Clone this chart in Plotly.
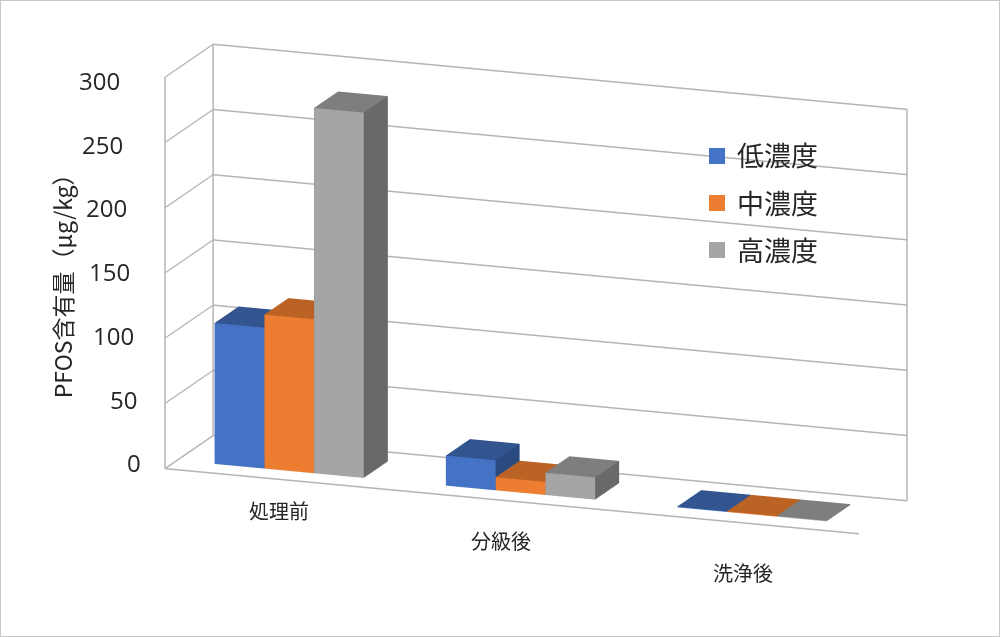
import math
import plotly.graph_objects as go

categories = ['処理前', '分級後', '洗浄後']
series_names = ['低濃度', '中濃度', '高濃度']
low_values = [108, 23, 0.5]
mid_values = [118, 10, 0.5]
high_values = [280, 17, 0.5]
z_ticks = [0, 50, 100, 150, 200, 250, 300]

front_colors = ['#4472C4', '#ED7D31', '#A5A5A5']
top_colors = ['#32548F', '#BA6325', '#7E7E7E']
side_colors = ['#2A4A80', '#A55620', '#696969']
GRID = '#b4b4b4'
TEXT = '#262626'
JP_FONT = 'Noto Sans CJK JP'

BAR_W = 0.215
BAR_SHIFT = -0.015
Y_FRONT, Y_BACK = 0.25, 0.75
# nudges for the category labels, the reference has perspective and this view does not
label_dx = [-2, -11, 0]
label_dy = [8, 0, -11]


def bar_mesh(i, j, value):
    x0 = i + BAR_SHIFT + (j - 1.5) * BAR_W
    x1 = x0 + BAR_W
    xs = [x0, x1, x1, x0, x0, x1, x1, x0]
    ys = [Y_FRONT, Y_FRONT, Y_BACK, Y_BACK] * 2
    zs = [0, 0, 0, 0, value, value, value, value]
    faces = [
        (0, 1, 5, 'f'), (0, 5, 4, 'f'),
        (1, 2, 6, 's'), (1, 6, 5, 's'),
        (4, 5, 6, 't'), (4, 6, 7, 't'),
        (0, 3, 7, 's'), (0, 7, 4, 's'),
        (2, 3, 7, 's'), (2, 7, 6, 's'),
        (0, 1, 2, 's'), (0, 2, 3, 's'),
    ]
    pick = {'f': front_colors[j], 's': side_colors[j], 't': top_colors[j]}
    return go.Mesh3d(
        x=xs, y=ys, z=zs,
        i=[f[0] for f in faces], j=[f[1] for f in faces], k=[f[2] for f in faces],
        facecolor=[pick[f[3]] for f in faces],
        flatshading=True,
        lighting=dict(ambient=1, diffuse=0, specular=0, fresnel=0),
        showlegend=False, hoverinfo='skip',
    )


fig = go.Figure()
for j, vals in enumerate([low_values, mid_values, high_values]):
    for i, v in enumerate(vals):
        fig.add_trace(bar_mesh(i, j, v))

# floor outline and back edges of the box
x_lo, x_hi = -0.5, 2.5
z_top = z_ticks[-1]
frame = [
    ([x_lo, x_hi], [0, 0], [0, 0]),
    ([x_lo, x_lo], [0, 1], [0, 0]),
    ([x_lo, x_hi], [1, 1], [0, 0]),
    ([x_lo, x_lo], [0, 0], [0, z_top]),
    ([x_lo, x_lo], [1, 1], [0, z_top]),
    ([x_hi, x_hi], [1, 1], [0, z_top]),
]
for fx, fy, fz in frame:
    fig.add_trace(go.Scatter3d(x=fx, y=fy, z=fz, mode='lines', line=dict(color=GRID, width=3),
                               showlegend=False, hoverinfo='skip'))

for name, color in zip(series_names, front_colors):
    fig.add_trace(go.Scatter3d(x=[None], y=[None], z=[None], mode='markers', name=name, legendgroup=name,
                               marker=dict(symbol='square', size=16, color=color)))

# tick and category labels sit on the axes through scene annotations
scene_labels = [dict(x=x_lo, y=0, z=t, text=str(t), showarrow=False, xanchor='right', yanchor='middle',
                     xshift=-22 - 21 * t / z_top, yshift=6 - 9 * t / z_top,
                     font=dict(family='Open Sans', size=24, color=TEXT)) for t in z_ticks]
scene_labels += [dict(x=i, y=0, z=0, text=c, showarrow=False, xanchor='center', yanchor='top',
                      xshift=label_dx[i], yshift=-22 + label_dy[i],
                      font=dict(family=JP_FONT, size=20, color=TEXT))
                 for i, c in enumerate(categories)]

az, el = math.radians(20.3), math.radians(14.7)
dist = 1.35
eye = dict(x=dist * math.sin(az) * math.cos(el), y=-dist * math.cos(az) * math.cos(el), z=dist * math.sin(el))

fig.update_layout(
    width=1000, height=637,
    margin=dict(l=0, r=0, t=0, b=0),
    paper_bgcolor='white',
    showlegend=True,
    legend=dict(x=0.697, y=0.793, xanchor='left', yanchor='top', bgcolor='rgba(0,0,0,0)',
                font=dict(family=JP_FONT, size=27, color=TEXT), itemsizing='trace', tracegroupgap=9),
    scene=dict(
        domain=dict(x=[0.072, 1], y=[0.092, 1]),
        aspectmode='manual',
        aspectratio=dict(x=2.56, y=0.48, z=1.4),
        camera=dict(eye=eye, up=dict(x=0, y=0, z=1), center=dict(x=0, y=0, z=0),
                    projection=dict(type='orthographic')),
        xaxis=dict(range=[x_lo, x_hi], showticklabels=False, ticks='', title='',
                   showgrid=False, zeroline=False, showbackground=False, showspikes=False),
        yaxis=dict(range=[0, 1], showticklabels=False, title='', showgrid=False, zeroline=False,
                   showbackground=False, ticks='', showspikes=False),
        zaxis=dict(range=[0, z_top], tickvals=z_ticks, showticklabels=False, ticks='', title='',
                   gridcolor=GRID, gridwidth=3,
                   zeroline=False, showbackground=False, showspikes=False),
        annotations=scene_labels,
    ),
    annotations=[dict(text='PFOS含有量（μg/kg）', x=0.062, y=0.56, xref='paper', yref='paper', showarrow=False,
                      xanchor='center', yanchor='middle', textangle=-90,
                      font=dict(family=JP_FONT, size=23, color=TEXT))],
    shapes=[dict(type='rect', xref='paper', yref='paper', x0=0, y0=0, x1=1, y1=1,
                 line=dict(color='#c8c8c8', width=2))],
)

fig.write_html('out.html', config=dict(displayModeBar=False), post_script="document.body.style.margin='0';")
